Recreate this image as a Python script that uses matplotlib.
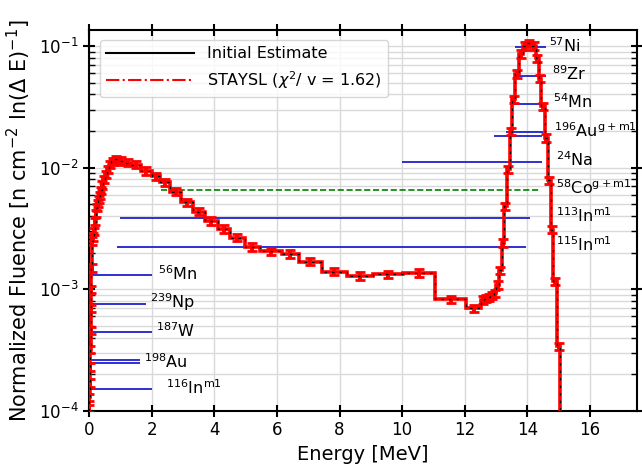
import matplotlib
matplotlib.use('Agg')
import matplotlib.pyplot as plt
from matplotlib.lines import Line2D
import numpy as np

# group structure (MeV) and normalized fluence per ln(dE)
edges = [0.0, 0.01, 0.02, 0.03, 0.04, 0.05, 0.06, 0.07, 0.08, 0.10, 0.12, 0.15,
         0.18, 0.21, 0.24, 0.27, 0.30, 0.33, 0.36, 0.40, 0.45, 0.50, 0.56, 0.63,
         0.71, 0.80, 0.95, 1.12, 1.35, 1.65, 2.0, 2.26, 2.6, 2.95, 3.32, 3.70,
         4.12, 4.5, 4.98, 5.46, 6.15, 6.71, 7.43, 8.23, 9.08, 10.04, 11.05,
         12.05, 12.52, 12.62, 12.72, 12.82, 12.92, 13.0, 13.1, 13.18, 13.26,
         13.34, 13.43, 13.52, 13.6, 13.74, 13.85, 13.98, 14.14, 14.27, 14.36,
         14.43, 14.55, 14.67, 14.74, 14.82, 14.96, 15.04]
fluence = [1.05e-4, 1.3e-4, 1.7e-4, 2.3e-4, 3.2e-4, 4.6e-4, 7.0e-4, 1.0e-3,
           1.5e-3, 2.5e-3, 2.7e-3, 3.0e-3, 3.6e-3, 4.2e-3, 4.7e-3, 5.1e-3,
           5.5e-3, 5.9e-3, 6.5e-3, 7.2e-3, 8.0e-3, 8.8e-3, 9.7e-3, 1.06e-2,
           1.13e-2, 1.17e-2, 1.14e-2, 1.10e-2, 1.06e-2, 9.4e-3, 8.5e-3, 7.6e-3,
           6.35e-3, 5.2e-3, 4.36e-3, 3.65e-3, 3.13e-3, 2.66e-3, 2.24e-3,
           2.05e-3, 1.95e-3, 1.69e-3, 1.40e-3, 1.29e-3, 1.33e-3, 1.37e-3,
           8.3e-4, 7.0e-4, 8.2e-4, 8.4e-4, 8.6e-4, 8.9e-4, 9.3e-4, 1.09e-3,
           1.43e-3, 2.4e-3, 4.8e-3, 9.7e-3, 1.98e-2, 3.65e-2, 5.9e-2, 8.6e-2,
           0.100, 0.105, 0.100, 0.079, 0.054, 0.032, 0.0175, 0.0079, 3.1e-3,
           1.16e-3, 3.4e-4]
rel_err = 0.07

# activation reactions: response range (MeV) and level
rx_names = [r'$^{57}$Ni', r'$^{89}$Zr', r'$^{54}$Mn',
            r'$^{196}$Au$^{\mathrm{g+m1}}$', r'$^{196}$Au$^{\mathrm{g+m1}}$',
            r'$^{24}$Na', r'$^{58}$Co$^{\mathrm{g+m1}}$',
            r'$^{113}$In$^{\mathrm{m1}}$', r'$^{115}$In$^{\mathrm{m1}}$',
            r'$^{56}$Mn', r'$^{239}$Np', r'$^{187}$W', r'$^{198}$Au',
            r'$^{198}$Au', r'$^{116}$In$^{\mathrm{m1}}$']
rx_level = [9.76e-2, 5.7e-2, 3.32e-2, 1.95e-2, 1.81e-2, 1.12e-2, 6.57e-3,
            3.84e-3, 2.22e-3, 1.30e-3, 7.55e-4, 4.44e-4, 2.63e-4, 2.47e-4,
            1.51e-4]
rx_lo = [13.62, 13.62, 13.51, 13.33, 12.92, 10.0, 2.29, 0.98, 0.89, 0.0, 0.0,
         0.0, 0.0, 0.0, 0.0]
rx_hi = [14.58, 14.58, 14.52, 14.5, 14.47, 14.47, 14.36, 14.07, 13.96, 2.02,
         1.83, 2.02, 1.62, 1.62, 2.02]

edges = np.array(edges)
fluence = np.array(fluence)
centers = 0.5 * (edges[1:] + edges[:-1])

fig = plt.figure(figsize=(6.42, 4.70), dpi=100)
ax = fig.add_axes([0.1386, 0.1255, 0.8536, 0.8105])

ax.stairs(fluence, edges, baseline=1e-7, color='red', lw=2.6, zorder=3)
ax.errorbar(centers, fluence, yerr=rel_err * fluence, fmt='none', ecolor='red',
            elinewidth=2.8, capsize=3.5, capthick=2, zorder=3)
ax.stairs(fluence, edges, baseline=1e-7, color='black', lw=0.9,
          linestyle=(0, (2, 4)), zorder=4)

# reaction response ranges
label_x = [14.68, 14.8, 14.83, 14.86, None, 14.9, 14.9, 14.9, 14.9, 2.2, 1.95,
           2.15, None, 1.75, 2.45]
for i, name in enumerate(rx_names):
    if 'Co' in name:
        ax.hlines(rx_level[i], rx_lo[i], rx_hi[i], colors='green', lw=1.2,
                  linestyles='--', zorder=2)
    else:
        ax.hlines(rx_level[i], rx_lo[i], rx_hi[i], colors='#1f1fd0', lw=1.3,
                  zorder=2)
    if label_x[i] is not None:
        ax.text(label_x[i], rx_level[i] * 1.04, name, fontsize=11.5,
                ha='left', va='center', zorder=5)

ax.set_yscale('log')
ax.set_xlim(0, 17.5)
ax.set_ylim(1e-4, 0.135)
ax.set_xticks(np.arange(0, 17, 2))
ax.set_xlabel('Energy [MeV]', fontsize=14)
ax.set_ylabel(r'Normalized Fluence [n cm$^{-2}$ ln($\Delta$ E)$^{-1}$]',
              fontsize=15)

ax.grid(True, which='major', color='#d9d9d9', lw=1)
ax.grid(True, which='minor', axis='y', color='#d9d9d9', lw=1)
ax.set_axisbelow(True)
ax.tick_params(which='major', direction='inout', length=8, width=1.5,
               top=True, right=True, labelsize=12)
ax.tick_params(which='minor', direction='in', length=4, width=1,
               top=True, right=True)
ax.tick_params(axis='x', which='minor', bottom=False, top=False)
for sp in ax.spines.values():
    sp.set_linewidth(1.5)

handles = [Line2D([], [], color='black', lw=1.5),
           Line2D([], [], color='red', lw=1.5, ls='-.')]
ax.legend(handles, ['Initial Estimate', r'STAYSL ($\chi^2$/ v = 1.62)'],
          loc='upper left', fontsize=11.5, handlelength=5.5,
          bbox_to_anchor=(0.005, 0.995))

fig.savefig('out.png', dpi=100)
